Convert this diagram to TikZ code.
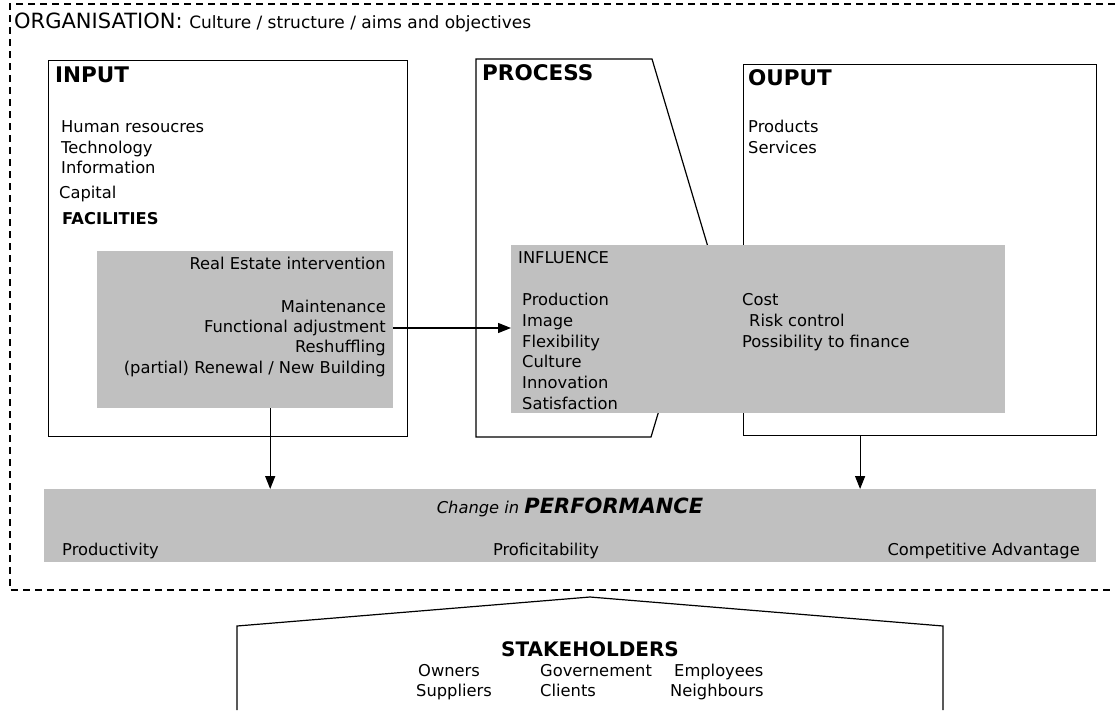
\documentclass[tikz,border=0pt]{standalone}
\usepackage{fontspec}
\setmainfont{DejaVu Sans}
\usetikzlibrary{arrows.meta}
\definecolor{panelgray}{RGB}{192,192,192}

\begin{document}
\begin{tikzpicture}[x=1pt,y=-1pt,
    box/.style={draw,line width=1.2pt,inner sep=0pt,anchor=north west},
    panel/.style={fill=panelgray,inner sep=0pt,anchor=north west},
    txt/.style={inner sep=0pt,font=\fontsize{16.3}{20}\selectfont},
    head/.style={inner sep=0pt,anchor=base west,font=\fontsize{21.5}{24}\selectfont\bfseries},
    arr/.style={-{Triangle[length=13pt,width=10pt]},line width=1.2pt}]
    \useasboundingbox (0,0) rectangle (1115,710);
    % organisation frame
    \draw[line width=1.3pt,dash pattern=on 7pt off 5pt] (1115,4) -- (10,4) -- (10,590) -- (1115,590);
    \node[inner sep=0pt,anchor=base west,font=\fontsize{21}{24}\selectfont] (org) at (14,28)
        {ORGANISATION: {\fontsize{17}{20}\selectfont Culture / structure / aims and objectives}};

    % the three blocks
    \node[box,minimum width=359pt,minimum height=376pt] (input) at (48,60) {};
    \draw[line width=1.2pt] (476,59) -- (652,59) -- (708,247) -- (651,437) -- (476,437) -- cycle;
    \node[box,minimum width=353pt,minimum height=371pt] (output) at (743,64) {};

    \node[head] (inputhead) at (55,82) {INPUT};
    \node[txt,anchor=base west] (hr) at (61,132.5) {Human resoucres};
    \node[txt,anchor=base west] (tech) at (61,153) {Technology};
    \node[txt,anchor=base west] (info) at (61,173.5) {Information};
    \node[txt,anchor=base west] (cap) at (59,198.5) {Capital};
    \node[txt,anchor=base west,font=\fontsize{16.3}{20}\selectfont\bfseries] (fac) at (62,224.5) {FACILITIES};

    \node[head] (processhead) at (482,80) {PROCESS};

    \node[head] (outputhead) at (748,85) {OUPUT};
    \node[txt,anchor=base west] (prod) at (748,132.5) {Products};
    \node[txt,anchor=base west] (serv) at (748,153) {Services};

    % real estate intervention
    \node[panel,minimum width=296pt,minimum height=157pt] (estate) at (97,251) {};
    \node[txt,anchor=base east] (rei) at (386,269.5) {Real Estate intervention};
    \node[txt,anchor=base east] (maint) at (386,312.5) {Maintenance};
    \node[txt,anchor=base east] (fa) at (386,332.5) {Functional adjustment};
    \node[txt,anchor=base east] (resh) at (386,352.5) {Reshuffling};
    \node[txt,anchor=base east] (renew) at (386,373.5) {(partial) Renewal / New Building};

    % influence
    \node[panel,minimum width=494pt,minimum height=168pt] (influence) at (511,245) {};
    \node[txt,anchor=base west] (inflhead) at (518,263) {INFLUENCE};
    \foreach \t [count=\i from 0] in {Production,Image,Flexibility,Culture,Innovation,Satisfaction}
        \node[txt,anchor=base west] (infl\i) at (522,{305.5+20.8*\i}) {\t};
    \node[txt,anchor=base west] (cost) at (742,305.5) {Cost};
    \node[txt,anchor=base west] (risk) at (749,326.3) {Risk control};
    \node[txt,anchor=base west] (fin) at (742,347.1) {Possibility to finance};

    % performance
    \node[panel,minimum width=1052pt,minimum height=73pt] (perf) at (44,489) {};
    \node[txt,anchor=base] (perfhead) at (570,513)
        {\itshape Change in {\fontsize{21}{24}\selectfont\bfseries PERFORMANCE}};
    \node[txt,anchor=base west] (pty) at (62,555) {Productivity};
    \node[txt,anchor=base] (pft) at (546,555) {Proficitability};
    \node[txt,anchor=base east] (comp) at (1080,555) {Competitive Advantage};

    \draw[arr] (fa.east -| estate.east) -- (fa.east -| influence.west);
    \draw[arr] ([xshift=25pt]estate.south) -- ([xshift=25pt]estate.south |- perf.north);
    \draw[arr] ([xshift=-60pt]output.south) -- ([xshift=-60pt]output.south |- perf.north);

    % stakeholders
    \draw[line width=1.2pt] (237,710) -- (237,626) -- (590,597) -- (943,626) -- (943,710);
    \node[txt,anchor=base,font=\fontsize{20}{24}\selectfont\bfseries] (stake) at (590,656) {STAKEHOLDERS};
    \node[txt,anchor=base west] (own) at (418,676) {Owners};
    \node[txt,anchor=base west] (gov) at (540,676) {Governement};
    \node[txt,anchor=base west] (emp) at (674,676) {Employees};
    \node[txt,anchor=base west] (sup) at (416,696.5) {Suppliers};
    \node[txt,anchor=base west] (cli) at (540,696.5) {Clients};
    \node[txt,anchor=base west] (nei) at (670,696.5) {Neighbours};
\end{tikzpicture}
\end{document}
